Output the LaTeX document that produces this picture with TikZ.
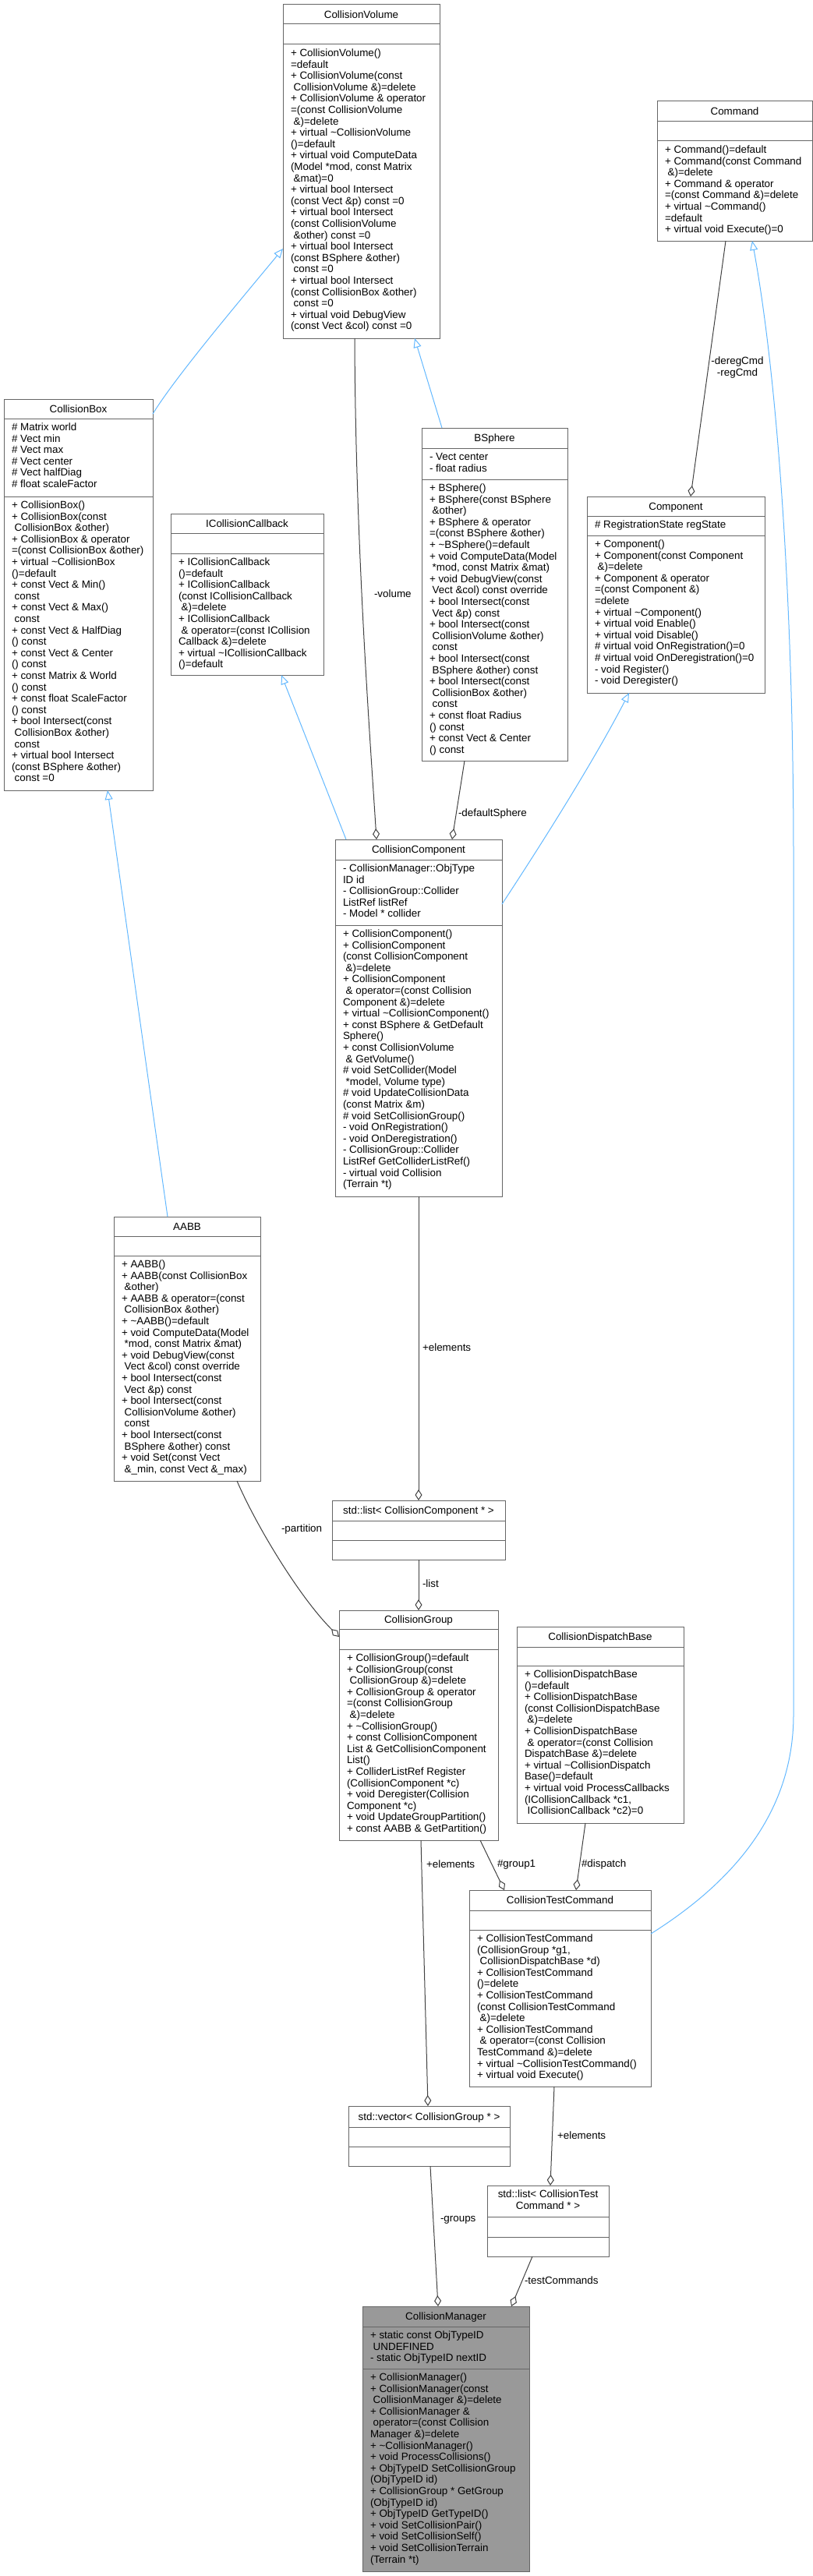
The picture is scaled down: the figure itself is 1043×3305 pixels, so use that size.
\documentclass[tikz,border=0pt]{standalone}
\usepackage{fontspec}
\setmainfont{Liberation Sans}
\usetikzlibrary{arrows.meta,calc}
\definecolor{inhblue}{HTML}{63B8FF}
\definecolor{edgegrey}{HTML}{404040}
\definecolor{boxc}{HTML}{666666}
\definecolor{focusfill}{HTML}{999999}
\tikzset{
  txt/.style={font=\fontsize{13.4pt}{14.6pt}\selectfont, inner sep=0pt, outer sep=0pt, text=black},
  boxst/.style={draw=boxc, line width=1pt, inner sep=0pt, outer sep=0pt},
  boxline/.style={draw=boxc, line width=1pt},
  inh/.style={draw=inhblue, line width=1pt, -{Triangle[open, length=12pt, width=10pt]}},
  use/.style={draw=edgegrey, line width=1pt, -{Diamond[open, length=14pt, width=9pt]}},
  lbl/.style={txt, anchor=west},
}
% #1 fill, #2 name, #3 x, #4 ytop, #5 width, #6 divider1, #7 divider2, #8 ybottom, #9 title
\newcommand\ubox[9][white]{%
  \node[boxst, fill=#1, minimum width=#5pt, minimum height={#8pt-#4pt}, anchor=north west] (#2) at (#3,#4) {};
  \draw[boxline] ($(#2.north west)+(0,#6-#4)$) -- ($(#2.north east)+(0,#6-#4)$);
  \draw[boxline] ($(#2.north west)+(0,#7-#4)$) -- ($(#2.north east)+(0,#7-#4)$);
  \node[txt, anchor=base] (#2-t) at ({#3+#5/2},{(#4+#6)/2+4.8}) {#9};
}
\newcommand\usect[4]{\node[txt, anchor=base west] (#1) at (#2,#3) {\begin{tabular}[t]{@{}l@{}}#4\end{tabular}};}
\newcommand\tl{\textasciitilde}
\begin{document}
\begin{tikzpicture}[x=1pt,y=-1pt]
\useasboundingbox (0,0) rectangle (1043,3305);

% CollisionVolume
\ubox{cv}{363}{6}{201}{31}{57}{434}{CollisionVolume}
\usect{cv-m}{373}{72.5}{%
+ CollisionVolume()\\
=default\\
+ CollisionVolume(const\\
\ CollisionVolume \&)=delete\\
+ CollisionVolume \& operator\\
=(const CollisionVolume\\
\ \&)=delete\\
+ virtual \tl CollisionVolume\\
()=default\\
+ virtual void ComputeData\\
(Model *mod, const Matrix\\
\ \&mat)=0\\
+ virtual bool Intersect\\
(const Vect \&p) const =0\\
+ virtual bool Intersect\\
(const CollisionVolume\\
\ \&other) const =0\\
+ virtual bool Intersect\\
(const BSphere \&other)\\
\ const =0\\
+ virtual bool Intersect\\
(const CollisionBox \&other)\\
\ const =0\\
+ virtual void DebugView\\
(const Vect \&col) const =0}

% Command
\ubox{cmd}{843}{130}{199}{156}{181}{309}{Command}
\usect{cmd-m}{853}{196.5}{%
+ Command()=default\\
+ Command(const Command\\
\ \&)=delete\\
+ Command \& operator\\
=(const Command \&)=delete\\
+ virtual \tl Command()\\
=default\\
+ virtual void Execute()=0}

% CollisionBox
\ubox{cbox}{5}{512}{191}{537}{637}{1014}{CollisionBox}
\usect{cbox-a}{15}{552.5}{%
\# Matrix world\\
\# Vect min\\
\# Vect max\\
\# Vect center\\
\# Vect halfDiag\\
\# float scaleFactor}
\usect{cbox-m}{15}{652.5}{%
+ CollisionBox()\\
+ CollisionBox(const\\
\ CollisionBox \&other)\\
+ CollisionBox \& operator\\
=(const CollisionBox \&other)\\
+ virtual \tl CollisionBox\\
()=default\\
+ const Vect \& Min()\\
\ const\\
+ const Vect \& Max()\\
\ const\\
+ const Vect \& HalfDiag\\
() const\\
+ const Vect \& Center\\
() const\\
+ const Matrix \& World\\
() const\\
+ const float ScaleFactor\\
() const\\
+ bool Intersect(const\\
\ CollisionBox \&other)\\
\ const\\
+ virtual bool Intersect\\
(const BSphere \&other)\\
\ const =0}

% ICollisionCallback
\ubox{icb}{219}{659}{196}{684}{710}{866}{ICollisionCallback}
\usect{icb-m}{229}{725.5}{%
+ ICollisionCallback\\
()=default\\
+ ICollisionCallback\\
(const ICollisionCallback\\
\ \&)=delete\\
+ ICollisionCallback\\
\ \& operator=(const ICollision\\
Callback \&)=delete\\
+ virtual \tl ICollisionCallback\\
()=default}

% BSphere
\ubox{bs}{541}{549}{187}{575}{615}{976}{BSphere}
\usect{bs-a}{551}{590.5}{%
- Vect center\\
- float radius}
\usect{bs-m}{551}{630.5}{%
+ BSphere()\\
+ BSphere(const BSphere\\
\ \&other)\\
+ BSphere \& operator\\
=(const BSphere \&other)\\
+ \tl BSphere()=default\\
+ void ComputeData(Model\\
\ *mod, const Matrix \&mat)\\
+ void DebugView(const\\
\ Vect \&col) const override\\
+ bool Intersect(const\\
\ Vect \&p) const\\
+ bool Intersect(const\\
\ CollisionVolume \&other)\\
\ const\\
+ bool Intersect(const\\
\ BSphere \&other) const\\
+ bool Intersect(const\\
\ CollisionBox \&other)\\
\ const\\
+ const float Radius\\
() const\\
+ const Vect \& Center\\
() const}

% Component
\ubox{comp}{753}{637}{228}{662}{687}{889}{Component}
\usect{comp-a}{763}{677.5}{\# RegistrationState regState}
\usect{comp-m}{763}{702.5}{%
+ Component()\\
+ Component(const Component\\
\ \&)=delete\\
+ Component \& operator\\
=(const Component \&)\\
=delete\\
+ virtual \tl Component()\\
+ virtual void Enable()\\
+ virtual void Disable()\\
\# virtual void OnRegistration()=0\\
\# virtual void OnDeregistration()=0\\
- void Register()\\
- void Deregister()}

% CollisionComponent
\ubox{cc}{430}{1077}{214}{1103}{1187}{1535}{CollisionComponent}
\usect{cc-a}{440}{1118.5}{%
- CollisionManager::ObjType\\
ID id\\
- CollisionGroup::Collider\\
ListRef listRef\\
- Model * collider}
\usect{cc-m}{440}{1202.5}{%
+ CollisionComponent()\\
+ CollisionComponent\\
(const CollisionComponent\\
\ \&)=delete\\
+ CollisionComponent\\
\ \& operator=(const Collision\\
Component \&)=delete\\
+ virtual \tl CollisionComponent()\\
+ const BSphere \& GetDefault\\
Sphere()\\
+ const CollisionVolume\\
\ \& GetVolume()\\
\# void SetCollider(Model\\
\ *model, Volume type)\\
\# void UpdateCollisionData\\
(const Matrix \&m)\\
\# void SetCollisionGroup()\\
- void OnRegistration()\\
- void OnDeregistration()\\
- CollisionGroup::Collider\\
ListRef GetColliderListRef()\\
- virtual void Collision\\
(Terrain *t)}

% AABB
\ubox{aabb}{146}{1561}{188}{1586}{1611}{1900}{AABB}
\usect{aabb-m}{156}{1626.5}{%
+ AABB()\\
+ AABB(const CollisionBox\\
\ \&other)\\
+ AABB \& operator=(const\\
\ CollisionBox \&other)\\
+ \tl AABB()=default\\
+ void ComputeData(Model\\
\ *mod, const Matrix \&mat)\\
+ void DebugView(const\\
\ Vect \&col) const override\\
+ bool Intersect(const\\
\ Vect \&p) const\\
+ bool Intersect(const\\
\ CollisionVolume \&other)\\
\ const\\
+ bool Intersect(const\\
\ BSphere \&other) const\\
+ void Set(const Vect\\
\ \&\_min, const Vect \&\_max)}

% std::list< CollisionComponent * >
\ubox{lcc}{426}{1925}{222}{1951}{1976}{2001}{std::list< CollisionComponent * >}

% CollisionGroup
\ubox{cg}{435}{2066}{204}{2090}{2116}{2361}{CollisionGroup}
\usect{cg-m}{445}{2131.5}{%
+ CollisionGroup()=default\\
+ CollisionGroup(const\\
\ CollisionGroup \&)=delete\\
+ CollisionGroup \& operator\\
=(const CollisionGroup\\
\ \&)=delete\\
+ \tl CollisionGroup()\\
+ const CollisionComponent\\
List \& GetCollisionComponent\\
List()\\
+ ColliderListRef Register\\
(CollisionComponent *c)\\
+ void Deregister(Collision\\
Component *c)\\
+ void UpdateGroupPartition()\\
+ const AABB \& GetPartition()}

% CollisionDispatchBase
\ubox{cdb}{663}{2087}{214}{2113}{2137}{2339}{CollisionDispatchBase}
\usect{cdb-m}{673}{2152.5}{%
+ CollisionDispatchBase\\
()=default\\
+ CollisionDispatchBase\\
(const CollisionDispatchBase\\
\ \&)=delete\\
+ CollisionDispatchBase\\
\ \& operator=(const Collision\\
DispatchBase \&)=delete\\
+ virtual \tl CollisionDispatch\\
Base()=default\\
+ virtual void ProcessCallbacks\\
(ICollisionCallback *c1,\\
\ ICollisionCallback *c2)=0}

% CollisionTestCommand
\ubox{ctc}{602}{2425}{233}{2451}{2476}{2677}{CollisionTestCommand}
\usect{ctc-m}{612}{2491.5}{%
+ CollisionTestCommand\\
(CollisionGroup *g1,\\
\ CollisionDispatchBase *d)\\
+ CollisionTestCommand\\
()=delete\\
+ CollisionTestCommand\\
(const CollisionTestCommand\\
\ \&)=delete\\
+ CollisionTestCommand\\
\ \& operator=(const Collision\\
TestCommand \&)=delete\\
+ virtual \tl CollisionTestCommand()\\
+ virtual void Execute()}

% std::vector< CollisionGroup * >
\ubox{vcg}{447}{2702}{207}{2729}{2754}{2779}{std::vector< CollisionGroup * >}

% std::list< CollisionTestCommand * >
\ubox{lctc}{625}{2804}{156}{2844}{2870}{2895}{}
\node[txt, anchor=center] (lctc-tt) at (703,2824) {\begin{tabular}{@{}c@{}}std::list< CollisionTest\\Command * >\end{tabular}};

% CollisionManager
\ubox[focusfill]{cm}{465}{2959}{214}{2985}{3039}{3299}{CollisionManager}
\usect{cm-a}{475}{3000.5}{%
+ static const ObjTypeID\\
\ UNDEFINED\\
- static ObjTypeID nextID}
\usect{cm-m}{475}{3054.5}{%
+ CollisionManager()\\
+ CollisionManager(const\\
\ CollisionManager \&)=delete\\
+ CollisionManager \&\\
\ operator=(const Collision\\
Manager \&)=delete\\
+ \tl CollisionManager()\\
+ void ProcessCollisions()\\
+ ObjTypeID SetCollisionGroup\\
(ObjTypeID id)\\
+ CollisionGroup * GetGroup\\
(ObjTypeID id)\\
+ ObjTypeID GetTypeID()\\
+ void SetCollisionPair()\\
+ void SetCollisionSelf()\\
+ void SetCollisionTerrain\\
(Terrain *t)}

% ---------- inheritance ----------
\draw[inh] ($(cbox.north east)+(0,19)$) .. controls (225,484) and (300,395) .. ($(cv.north west)+(0,313)$);
\draw[inh] ($(aabb.north west)+(69,0)$) -- ($(cbox.south west)+(133,0)$);
\draw[inh] ($(bs.north west)+(26,0)$) -- ($(cv.south west)+(169,0)$);
\draw[inh] ($(cc.north west)+(14,0)$) -- ($(icb.south west)+(142,0)$);
\draw[inh] ($(cc.north east)+(0,83)$) .. controls (690,1090) and (760,980) .. ($(comp.south west)+(54,0)$);
\draw[inh] ($(ctc.north east)+(0,56)$) .. controls (935,2418) and (1018,2330) .. (1018,2200) -- (1018,1100) .. controls (1018,800) and (1000,500) .. ($(cmd.south west)+(122,0)$);

% ---------- usage ----------
\draw[use] ($(cv.south west)+(92,0)$) .. controls (456,700) and (475,950) .. ($(cc.north west)+(53,0)$);
\node[lbl] (l-volume) at (480,762) {-volume};
\draw[use] ($(bs.south west)+(55,0)$) -- ($(cc.north west)+(150,0)$);
\node[lbl] (l-defsph) at (588,1044) {-defaultSphere};
\draw[use] ($(cmd.south west)+(88,0)$) -- ($(comp.north west)+(133,0)$);
\node[txt, anchor=center] (l-cmd) at (946,472) {\begin{tabular}{@{}c@{}}-deregCmd\\-regCmd\end{tabular}};
\draw[use] ($(cc.south west)+(107,0)$) -- ($(lcc.north west)+(111,0)$);
\node[lbl] (l-el1) at (542,1729) {+elements};
\draw[use] ($(lcc.south west)+(111,0)$) -- ($(cg.north west)+(102,0)$);
\node[lbl] (l-list) at (542,2032) {-list};
\draw[use] ($(aabb.south west)+(158,0)$) .. controls (330,1960) and (385,2050) .. ($(cg.north west)+(0,34)$);
\node[lbl] (l-part) at (361,1962) {-partition};
\draw[use] ($(cg.south west)+(105,0)$) -- ($(vcg.north west)+(102,0)$);
\node[lbl] (l-el2) at (547,2392) {+elements};
\draw[use] ($(cg.south west)+(181,0)$) -- ($(ctc.north west)+(45,0)$);
\node[lbl] (l-g1) at (638,2392) {\#group1};
\draw[use] ($(cdb.south west)+(88,0)$) -- ($(ctc.north west)+(137,0)$);
\node[lbl] (l-disp) at (746,2392) {\#dispatch};
\draw[use] ($(ctc.south west)+(109,0)$) -- ($(lctc.north west)+(81,0)$);
\node[lbl] (l-el3) at (715,2740) {+elements};
\draw[use] ($(vcg.south west)+(105,0)$) -- ($(cm.north west)+(97,0)$);
\node[lbl] (l-groups) at (565,2848) {-groups};
\draw[use] ($(lctc.south west)+(58,0)$) -- ($(cm.north west)+(191,0)$);
\node[lbl] (l-tc) at (673,2926) {-testCommands};
\end{tikzpicture}
\end{document}
